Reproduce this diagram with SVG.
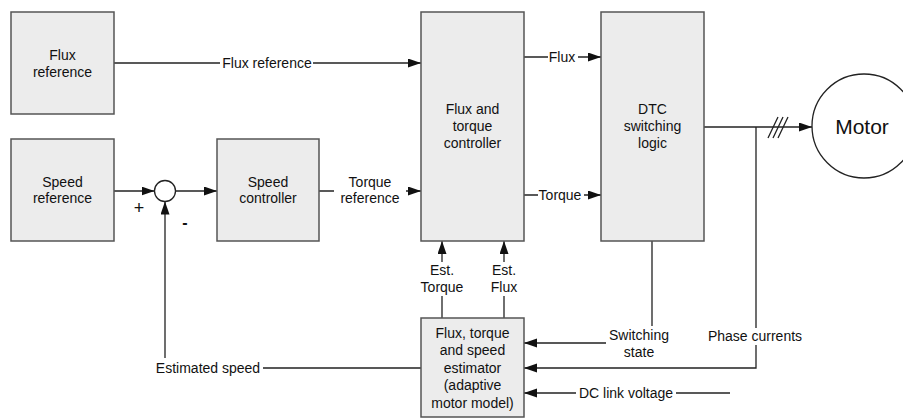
<svg xmlns="http://www.w3.org/2000/svg" width="903" height="419" viewBox="0 0 903 419">
<style>
.box{fill:#ececec;stroke:#555;stroke-width:1.5}
.t{font-family:"Liberation Sans",Arial,sans-serif;font-size:14px;fill:#111;text-anchor:middle}
.c{fill:none;stroke:#222;stroke-width:1.3}
.a{marker-end:url(#arr)}
.bg{fill:#fff}
</style>
<defs>
<marker id="arr" markerUnits="userSpaceOnUse" markerWidth="13" markerHeight="10" refX="13" refY="4.5" orient="auto">
<path d="M0,0 L13,4.5 L0,9 z" fill="#111"/>
</marker>
</defs>
<rect width="903" height="419" fill="#fff"/>

<g id="connectors">
<path class="c a" d="M114,63 H421"/>
<path class="c a" d="M114,191 H154.5"/>
<path class="c a" d="M175.5,191 H217"/>
<path class="c a" d="M319,191 H421"/>
<path class="c a" d="M524,57 H601"/>
<path class="c a" d="M524,195 H601"/>
<path class="c a" d="M704,127 H812"/>
<path class="c" d="M768,138 L778,117 M773,138 L783,117 M778,138 L788,117"/>
<path class="c a" d="M756,127 V368 H524"/>
<path class="c a" d="M652,241 V343 H524"/>
<path class="c a" d="M730,393 H524"/>
<path class="c a" d="M442,318 V241"/>
<path class="c a" d="M504,318 V241"/>
<path class="c a" d="M421,368 H165 V201.5"/>
<rect class="bg" x="220" y="55" width="93" height="16"/>
<text class="t" x="267" y="68">Flux reference</text>
<rect class="bg" x="334" y="175" width="72" height="32"/>
<text class="t" x="370" y="187">Torque</text>
<text class="t" x="370" y="203">reference</text>
<rect class="bg" x="548" y="49" width="30" height="16"/>
<text class="t" x="562" y="62">Flux</text>
<rect class="bg" x="538" y="187" width="46" height="16"/>
<text class="t" x="560" y="200">Torque</text>
<rect class="bg" x="704" y="328" width="100" height="17"/>
<text class="t" x="755" y="341">Phase currents</text>
<rect class="bg" x="606" y="326" width="66" height="34"/>
<text class="t" x="639" y="340">Switching</text>
<text class="t" x="639" y="357">state</text>
<rect class="bg" x="576" y="385" width="100" height="16"/>
<text class="t" x="626" y="398">DC link voltage</text>
<rect class="bg" x="422" y="262" width="42" height="34"/>
<text class="t" x="442" y="275">Est.</text>
<text class="t" x="442" y="292">Torque</text>
<rect class="bg" x="488" y="262" width="32" height="34"/>
<text class="t" x="504" y="275">Est.</text>
<text class="t" x="504" y="292">Flux</text>
<rect class="bg" x="153" y="358" width="110" height="18"/>
<text class="t" x="208" y="373">Estimated speed</text>
<text class="t" x="139" y="214" style="font-size:18px">+</text>
<text class="t" x="185" y="228" style="font-size:16px;font-weight:bold">-</text>
</g>

<g id="flux-reference">
<rect class="box" x="11" y="12" width="103" height="102"/>
<text class="t" x="62.5" y="60">Flux</text>
<text class="t" x="62.5" y="77">reference</text>
</g>
<g id="speed-reference">
<rect class="box" x="11" y="139" width="103" height="102"/>
<text class="t" x="62.5" y="187">Speed</text>
<text class="t" x="62.5" y="203">reference</text>
</g>
<g id="sum">
<circle cx="165" cy="191" r="10.5" fill="#fff" stroke="#222" stroke-width="1.3"/>
</g>
<g id="speed-controller">
<rect class="box" x="217" y="139" width="102" height="102"/>
<text class="t" x="268" y="187">Speed</text>
<text class="t" x="268" y="203">controller</text>
</g>
<g id="flux-torque-controller">
<rect class="box" x="421" y="12" width="103" height="229"/>
<text class="t" x="472.5" y="114">Flux and</text>
<text class="t" x="472.5" y="131">torque</text>
<text class="t" x="472.5" y="148">controller</text>
</g>
<g id="dtc">
<rect class="box" x="601" y="12" width="103" height="229"/>
<text class="t" x="652.5" y="114">DTC</text>
<text class="t" x="652.5" y="131">switching</text>
<text class="t" x="652.5" y="148">logic</text>
</g>
<g id="estimator">
<rect class="box" x="421" y="318" width="103" height="99"/>
<text class="t" x="472.5" y="338">Flux, torque</text>
<text class="t" x="472.5" y="355">and speed</text>
<text class="t" x="472.5" y="373">estimator</text>
<text class="t" x="472.5" y="390">(adaptive</text>
<text class="t" x="472.5" y="408">motor model)</text>
</g>
<g id="motor">
<circle cx="864" cy="126" r="52" fill="#fff" stroke="#222" stroke-width="1.3"/>
<text class="t" x="862" y="134" style="font-size:21px">Motor</text>
</g>
</svg>
